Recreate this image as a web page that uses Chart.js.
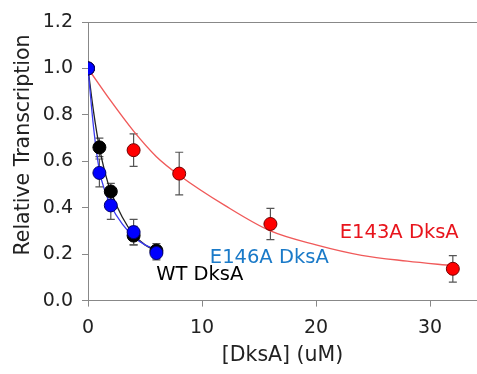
<!DOCTYPE html>
<html>
<head>
<meta charset="utf-8">
<script src="https://cdn.jsdelivr.net/npm/chart.js@4.4.1/dist/chart.umd.min.js"></script>
<style>
  html, body { margin: 0; padding: 0; background: #fff; overflow: hidden; }
  #myChart { display: block; }
</style>
</head>
<body>
<canvas id="myChart" width="477" height="374"></canvas>
<script>
// measured points
const concWT = [0, 1, 2, 4, 6];
const wtValues = [1.0, 0.66, 0.47, 0.28, 0.215];
const wtErr = [0, 0.04, 0.035, 0.04, 0.03];

const concE146 = [0, 1, 2, 4, 6];
const e146Values = [1.0, 0.55, 0.41, 0.295, 0.205];
const e146Err = [0, 0.06, 0.06, 0.055, 0.03];

const concE143 = [0, 4, 8, 16, 32];
const e143Values = [1.0, 0.648, 0.547, 0.33, 0.137];
const e143Err = [0, 0.07, 0.092, 0.067, 0.057];

// fitted curves
const fitConcSmall = [0, 0.5, 1, 1.5, 2, 3, 4, 5, 6];
const fitWT = [1.0, 0.81, 0.66, 0.55, 0.47, 0.36, 0.285, 0.24, 0.215];
const fitE146 = [1.0, 0.74, 0.56, 0.47, 0.41, 0.33, 0.275, 0.24, 0.22];
const fitConcE143 = [0, 2, 4, 6, 8, 12, 16, 20, 24, 28, 32];
const fitE143 = [1.0, 0.86, 0.73, 0.62, 0.54, 0.41, 0.30, 0.24, 0.195, 0.17, 0.15];

const yTicks = [0, 0.2, 0.4, 0.6, 0.8, 1.0, 1.2];
const xTicks = [0, 10, 20, 30];

const FONT = 'DejaVu Sans, Verdana, sans-serif';

function toXY(xs, ys) {
    return xs.map((x, i) => ({ x: x, y: ys[i] }));
}

const pointSets = [
    { label: 'E146A DksA', xs: concE146, ys: e146Values, err: e146Err, fill: '#0000ff', border: '#000070' },
    { label: 'WT DksA', xs: concWT, ys: wtValues, err: wtErr, fill: '#000000', border: '#000000' },
    { label: 'E143A DksA', xs: concE143, ys: e143Values, err: e143Err, fill: '#ff0000', border: '#700000' }
];

const datasets = [];
pointSets.forEach(s => {
    datasets.push({
        label: s.label,
        data: toXY(s.xs, s.ys),
        showLine: false,
        pointRadius: 6.5,
        pointBackgroundColor: s.fill,
        pointBorderColor: s.border,
        pointBorderWidth: 1
    });
});
datasets.push({
    label: 'fit E146A',
    data: toXY(fitConcSmall, fitE146),
    showLine: true,
    pointRadius: 0,
    borderColor: '#3a3af0',
    borderWidth: 1.3,
    cubicInterpolationMode: 'monotone'
});
datasets.push({
    label: 'fit WT',
    data: toXY(fitConcSmall, fitWT),
    showLine: true,
    pointRadius: 0,
    borderColor: '#222222',
    borderWidth: 1.3,
    cubicInterpolationMode: 'monotone'
});
datasets.push({
    label: 'fit E143A',
    data: toXY(fitConcE143, fitE143),
    showLine: true,
    pointRadius: 0,
    borderColor: '#f05a5a',
    borderWidth: 1.4,
    cubicInterpolationMode: 'monotone'
});

// error bars drawn behind the points
const errorBars = {
    id: 'errorBars',
    beforeDatasetsDraw(chart) {
        const ctx = chart.ctx;
        const xs = chart.scales.x;
        const ys = chart.scales.y;
        ctx.save();
        ctx.strokeStyle = '#555';
        ctx.lineWidth = 1.2;
        pointSets.forEach(s => {
            s.xs.forEach((x, i) => {
                if (!s.err[i]) return;
                const px = xs.getPixelForValue(x);
                const top = ys.getPixelForValue(s.ys[i] + s.err[i]);
                const bot = ys.getPixelForValue(s.ys[i] - s.err[i]);
                ctx.beginPath();
                ctx.moveTo(px, top); ctx.lineTo(px, bot);
                ctx.moveTo(px - 4, top); ctx.lineTo(px + 4, top);
                ctx.moveTo(px - 4, bot); ctx.lineTo(px + 4, bot);
                ctx.stroke();
            });
        });
        ctx.restore();
    }
};

// frame top line, series labels and y title
const decorations = {
    id: 'decorations',
    afterDraw(chart) {
        const ctx = chart.ctx;
        const area = chart.chartArea;
        const xs = chart.scales.x;
        const ys = chart.scales.y;
        ctx.save();
        ctx.strokeStyle = '#888';
        ctx.lineWidth = 1;
        ctx.beginPath();
        ctx.moveTo(area.left, Math.round(area.top) + 0.5);
        ctx.lineTo(chart.width, Math.round(area.top) + 0.5);
        ctx.moveTo(area.right, Math.round(area.bottom) + 0.5);
        ctx.lineTo(chart.width, Math.round(area.bottom) + 0.5);
        ctx.stroke();

        ctx.font = '19.5px ' + FONT;
        ctx.textAlign = 'center';
        ctx.textBaseline = 'middle';
        const labels = [
            { text: 'E143A DksA', x: 27.3, y: 0.292, color: '#e8141c' },
            { text: 'E146A DksA', x: 15.9, y: 0.185, color: '#1a7ac8' },
            { text: 'WT DksA', x: 9.8, y: 0.112, color: '#000000' }
        ];
        labels.forEach(l => {
            ctx.fillStyle = l.color;
            ctx.fillText(l.text, xs.getPixelForValue(l.x), ys.getPixelForValue(l.y));
        });

        ctx.font = '20.5px ' + FONT;
        ctx.translate(24, 145);
        ctx.rotate(-Math.PI / 2);
        ctx.fillStyle = '#222';
        ctx.fillText('Relative Transcription', 0, 0);
        ctx.restore();
    }
};

const ctx = document.getElementById('myChart').getContext('2d');
const myChart = new Chart(ctx, {
    type: 'scatter',
    data: { datasets: datasets },
    plugins: [errorBars, decorations],
    options: {
        responsive: false,
        animation: false,
        devicePixelRatio: 1,
        layout: { autoPadding: false, padding: { top: 22, right: 0, bottom: 0, left: 0 } },
        plugins: {
            legend: { display: false },
            tooltip: { enabled: false }
        },
        scales: {
            x: {
                type: 'linear',
                min: 0,
                max: 34.12,
                afterBuildTicks: axis => { axis.ticks = xTicks.map(v => ({ value: v })); },
                afterFit: axis => { axis.height = 73.4; },
                ticks: {
                    font: { family: FONT, size: 19 },
                    color: '#222',
                    padding: 10,
                    maxRotation: 0
                },
                grid: { drawOnChartArea: false, drawTicks: true, tickLength: 6, color: '#888' },
                border: { display: true, color: '#888', width: 1 },
                title: {
                    display: true,
                    text: '[DksA] (uM)',
                    font: { family: FONT, size: 20.5 },
                    color: '#222',
                    padding: { top: 4, bottom: 6 }
                }
            },
            y: {
                type: 'linear',
                min: 0,
                max: 1.2,
                afterBuildTicks: axis => { axis.ticks = yTicks.map(v => ({ value: v })); },
                afterFit: axis => { axis.width = 88; },
                ticks: {
                    font: { family: FONT, size: 19 },
                    color: '#222',
                    padding: 9,
                    callback: v => v.toFixed(1)
                },
                grid: { drawOnChartArea: false, drawTicks: true, tickLength: 6, color: '#888' },
                border: { display: true, color: '#888', width: 1 }
            }
        }
    }
});
</script>
</body>
</html>
